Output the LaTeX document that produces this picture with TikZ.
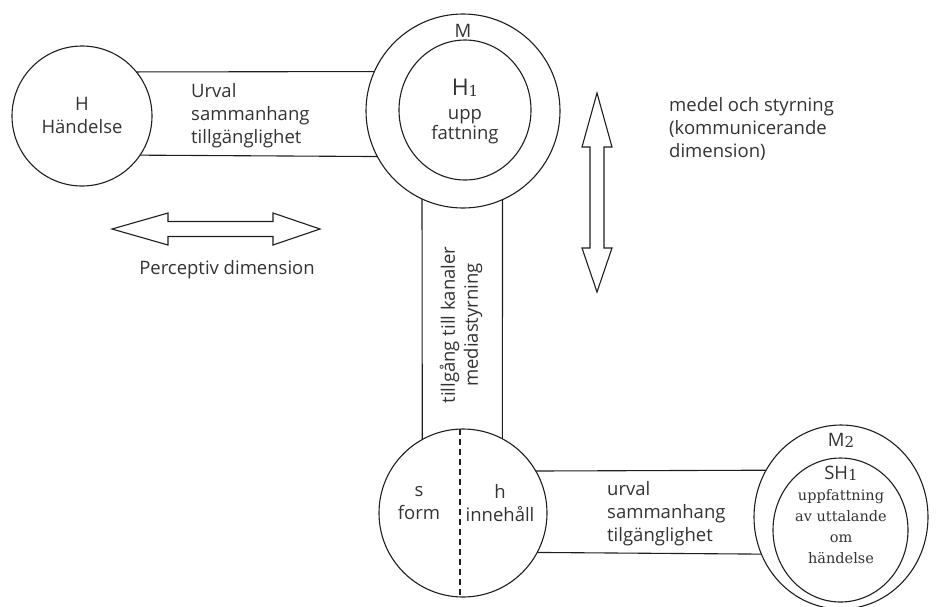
\documentclass[tikz,border=0pt]{standalone}
\usepackage{fontspec}
\usetikzlibrary{shapes.geometric}
\setmainfont{Open Sans}
\newfontfamily\serifface{DejaVu Serif}
\definecolor{ink}{HTML}{1E1E1E}
\definecolor{txt}{HTML}{333333}
\begin{document}
\begin{tikzpicture}[x=1pt,y=-1pt,
  ring/.style={circle, draw=ink, line width=1.1pt, inner sep=0pt, outer sep=0pt},
  oval/.style={ellipse, draw=ink, line width=1.1pt, inner sep=0pt, outer sep=0pt},
  band/.style={draw=ink, line width=1.1pt},
  lbl/.style={text=txt, inner sep=0pt, align=left, font=\fontsize{18.5}{23}\selectfont},
  clbl/.style={lbl, align=center},
  slbl/.style={text=txt, inner sep=0pt, align=center, font=\serifface\fontsize{14.5}{21}\selectfont},
  arrowshape/.style={draw=ink, line width=1.1pt, fill=white, line join=miter}
]
\useasboundingbox (0,0) rectangle (936,606);

% circles
\node[ring, minimum size=140] (H) at (82,116) {};
\node[ring, minimum size=194] (M) at (463,111) {};
\node[oval, minimum width=132, minimum height=140] (Mi) at (465,110) {};
\node[ring, minimum size=168] (B) at (463,513) {};
\node[oval, minimum width=174, minimum height=184] (M2) at (841,517) {};
\node[oval, minimum width=135, minimum height=144] (M2i) at (840.5,530) {};

% bands joining the circles
\draw[band] (H.39) -- (M.156.3);
\draw[band] (H.-34.8) -- (M.-152.4);
\draw[band] (M.-115) -- (B.119.2);
\draw[band] (M.-66.3) -- (B.62.3);
\draw[band] (B.30.8) -- (M2.148.3);
\draw[band] (B.-28.4) -- (M2.-155.2);

% split of the lower circle
\draw[ink, line width=1.1pt, dash pattern=on 6pt off 4pt] ([xshift=-3pt]B.north) -- ([xshift=-3pt]B.south);

% texts
\node[clbl] (Ht) at (82,115) {H\\Händelse};
\node[clbl] (Mt) at (463,31) {M};
\node[clbl, font=\fontsize{23}{24}\selectfont] (H1t) at (465,88) {H{\serifface\fontsize{15}{15}\selectfont\raisebox{-1.5pt}{1}}};
\node[clbl, font=\fontsize{18.5}{20}\selectfont] (Mit) at (465,127) {upp\\fattning};
\node[lbl, anchor=west] (b1) at (191,116) {Urval\\sammanhang\\tillgänglighet};
\node[clbl, rotate=90] (b2) at (461,325) {tillgång till kanaler\\mediastyrning};
\node[lbl, anchor=west] (b3) at (607,514) {urval\\sammanhang\\tilgänglighet};
\node[clbl] (s) at (419,503) {s\\form};
\node[clbl] (h) at (500,503) {h\\innehåll};
\node[clbl] (M2t) at (841,440) {M{\serifface\fontsize{15}{15}\selectfont\raisebox{-1pt}{2}}};
\node[clbl] (SH) at (841,473) {SH{\serifface\fontsize{15}{15}\selectfont\raisebox{-1pt}{1}}};
\node[slbl] (SHt) at (841,527) {uppfattning\\av uttalande\\om\\händelse};
\node[lbl, anchor=west] (med) at (669,129) {medel och styrning\\(kommunicerande\\dimension)};
\node[clbl] (per) at (227,270) {Perceptiv dimension};

% perceptive dimension arrow
\draw[arrowshape] (112,229) -- (168,213) -- (168,221.5) -- (273,221.5) -- (273,213)
  -- (320,229) -- (273,245) -- (273,236.5) -- (168,236.5) -- (168,245) -- cycle;
% communicative dimension arrow
\draw[arrowshape] (597,93) -- (612,147) -- (604,147) -- (604,248) -- (612,248)
  -- (597,292) -- (582,248) -- (590,248) -- (590,147) -- (582,147) -- cycle;
\end{tikzpicture}
\end{document}
